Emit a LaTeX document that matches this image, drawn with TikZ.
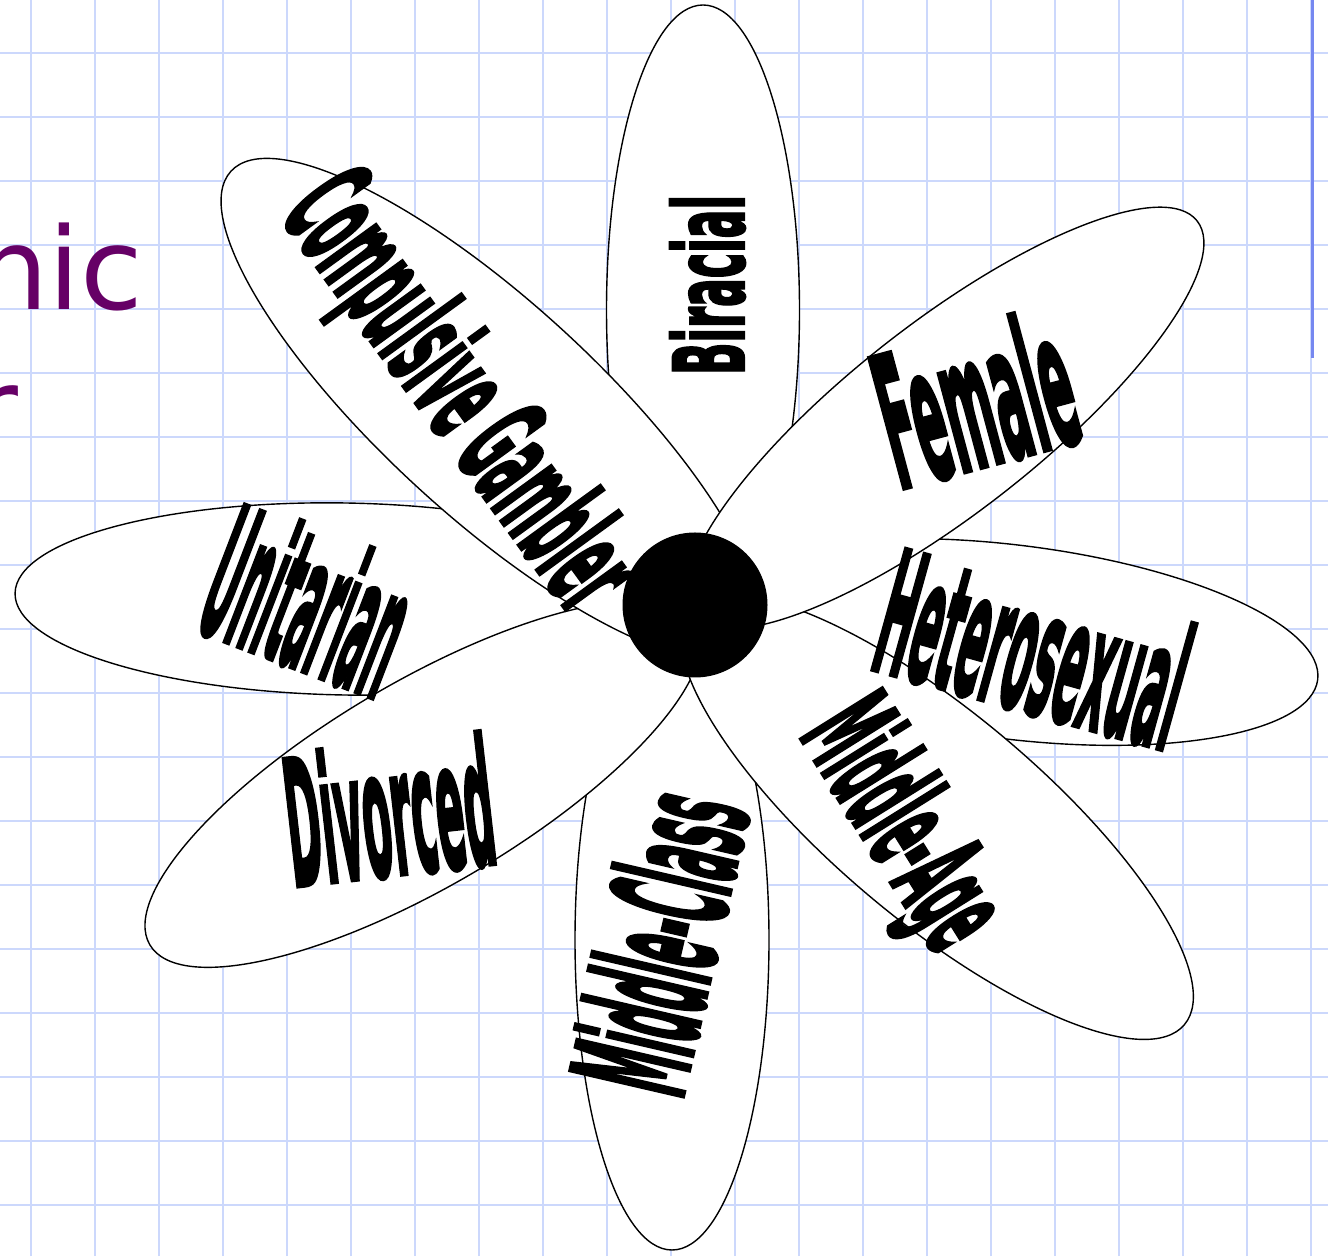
\documentclass[tikz,border=0pt]{standalone}
\usepackage{fontspec}
\setmainfont{DejaVu Sans}
\newfontfamily\wordart{DejaVu Sans}[FakeBold=3]
\usetikzlibrary{shapes.geometric}
\definecolor{gridblue}{RGB}{204,216,252}
\definecolor{edgeblue}{RGB}{118,136,240}
\definecolor{titlepurple}{RGB}{102,0,102}
\newcommand{\petallabel}[3]{\resizebox*{#1}{#2}{\wordart\bfseries #3}}

\begin{document}
\begin{tikzpicture}[x=1pt, y=1pt,
    petal/.style = {draw, ellipse, fill=white, line width=1.4pt, inner sep=0pt},
    hub/.style = {circle, fill=black, inner sep=0pt},
    word/.style = {inner sep=0pt, outer sep=0pt},
    title/.style = {inner sep=0pt, text=titlepurple, font=\fontsize{114}{114}\selectfont}]
    \clip (0,0) rectangle (1328,1256);
    \fill[white] (0,0) rectangle (1328,1256);
    % squared paper
    \foreach \x in {31,95,...,1311} \draw[gridblue, line width=2.4pt] (\x,0) -- (\x,1256);
    \foreach \y in {51,115,...,1203} \draw[gridblue, line width=2.4pt] (0,\y) -- (1328,\y);
    \draw[edgeblue, line width=3pt] (1312,1256) -- (1312,898);
    \node[title, anchor=base east] (hic) at (143,946) {hic};
    \node[title, anchor=base east] (er) at (19,806) {r};
    % petals, back to front
    \node[petal, minimum width=193pt, minimum height=610pt] (biracial) at (703,946) {};
    \node[petal, minimum width=616pt, minimum height=194pt, rotate=-7] (hetero) at (1012,614) {};
    \node[petal, minimum width=194pt, minimum height=620pt] (midclass) at (672,316) {};
    \node[petal, minimum width=660pt, minimum height=192pt, rotate=-1] (unitarian) at (345,657) {};
    \node[petal, minimum width=634pt, minimum height=204pt, rotate=30.5] (divorced) at (423,472) {};
    \node[petal, minimum width=704pt, minimum height=214pt, rotate=-42.5] (gambler) at (490.5,847) {};
    \node[petal, minimum width=646pt, minimum height=208pt, rotate=-40] (midage) at (937,439) {};
    \node[petal, minimum width=640pt, minimum height=190pt, rotate=38] (female) at (945,838) {};
    \node[hub, minimum size=145pt] (self) at (695,651) {};
    % labels
    \node[word, rotate=90] (lbiracial) at (707.5,971) {\petallabel{180pt}{75pt}{Biracial}};
    \node[word, rotate=-54] (lgambler) at (455,861) {\petallabel{500pt}{128pt}{Compulsive Gambler}};
    \node[word, rotate=15] (lfemale) at (975,858) {\petallabel{195pt}{142pt}{Female}};
    \node[word, rotate=-15.5] (lhetero) at (1034,608) {\petallabel{310pt}{132pt}{Heterosexual}};
    \node[word, rotate=-58] (lmidage) at (898,429) {\petallabel{262pt}{128pt}{Middle-Age}};
    \node[word, rotate=77] (lmidclass) at (658,314) {\petallabel{300pt}{122pt}{Middle-Class}};
    \node[word, rotate=6.5] (ldivorced) at (389,446) {\petallabel{208pt}{135pt}{Divorced}};
    \node[word, rotate=-21] (lunitarian) at (309,656) {\petallabel{198pt}{142pt}{Unitarian}};
\end{tikzpicture}
\end{document}
